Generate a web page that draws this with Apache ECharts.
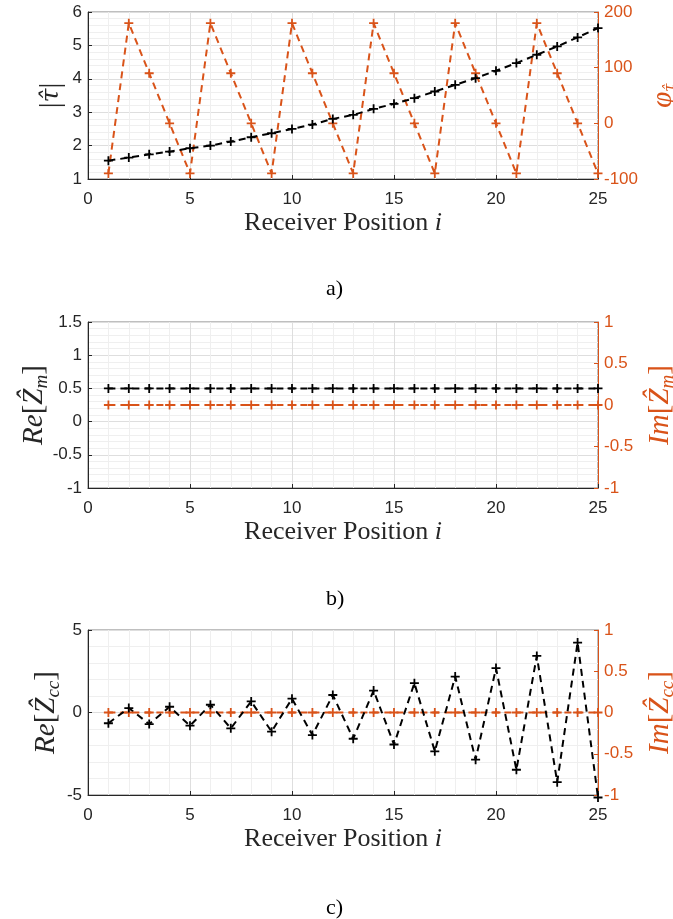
<!DOCTYPE html>
<html>
<head>
<meta charset="utf-8">
<script src="https://cdn.jsdelivr.net/npm/echarts@6/dist/echarts.min.js"></script>
<style>
  html, body { margin: 0; padding: 0; background: #fff; }
  #chart { width: 673px; height: 919px; }
</style>
</head>
<body>
<div id="chart"></div>
<script>
// receiver positions
var positions = [1,2,3,4,5,6,7,8,9,10,11,12,13,14,15,16,17,18,19,20,21,22,23,24,25];

// a) magnitude and phase of tau
var tauMag = [1.55,1.64,1.74,1.82,1.92,2.00,2.12,2.25,2.37,2.50,2.63,2.80,2.92,3.10,3.25,3.42,3.62,3.82,4.02,4.24,4.47,4.72,4.97,5.24,5.52];
var tauPhase = [-90,180,90,0,-90,180,90,0,-90,180,90,0,-90,180,90,0,-90,180,90,0,-90,180,90,0,-90];

// b) Z_m
var zmRe = [0.5,0.5,0.5,0.5,0.5,0.5,0.5,0.5,0.5,0.5,0.5,0.5,0.5,0.5,0.5,0.5,0.5,0.5,0.5,0.5,0.5,0.5,0.5,0.5,0.5];
var zmIm = [0,0,0,0,0,0,0,0,0,0,0,0,0,0,0,0,0,0,0,0,0,0,0,0,0];

// c) Z_cc
var zccRe = [-0.65,0.27,-0.70,0.35,-0.80,0.47,-0.96,0.67,-1.16,0.84,-1.37,1.06,-1.59,1.33,-1.94,1.78,-2.35,2.18,-2.86,2.69,-3.47,3.43,-4.22,4.24,-5.15];
var zccIm = [0,0,0,0,0,0,0,0,0,0,0,0,0,0,0,0,0,0,0,0,0,0,0,0,0];

var BLACK = '#000000';
var ORANGE = '#D95319';
var AXIS = '#262626';
var PLUS = 'path://M4,0H6V4H10V6H6V10H4V6H0V4H4Z';
var SERIF = 'Liberation Serif';
var MATH = 'DejaVu Serif';

var grids = [
  { left: 88, right: 75, top: 12, height: 167 },
  { left: 88, right: 75, top: 322, height: 166 },
  { left: 88, right: 75, top: 630, height: 165 }
];

function pairs(ys) {
  return positions.map(function (x, k) { return [x, ys[k]]; });
}

var nameRich = {
  it: { fontFamily: SERIF, fontStyle: 'italic', fontSize: 29 },
  hat: { fontFamily: MATH, fontStyle: 'italic', fontSize: 25 },
  sub: { fontFamily: SERIF, fontStyle: 'italic', fontSize: 19, verticalAlign: 'bottom', padding: [14, 0, 0, 0] },
  subhat: { fontFamily: MATH, fontStyle: 'italic', fontSize: 15, verticalAlign: 'bottom', padding: [14, 0, 0, 0] },
  n: { fontFamily: SERIF, fontSize: 29 }
};

function xAxisFor(g) {
  return {
    type: 'value', gridIndex: g, min: 0, max: 25, interval: 5,
    axisLine: { onZero: false, lineStyle: { color: AXIS, width: 1 } },
    axisTick: { inside: true, length: 4, lineStyle: { color: AXIS } },
    axisLabel: { color: AXIS, fontSize: 17, fontFamily: 'Liberation Sans', margin: 12 },
    splitLine: { show: true, lineStyle: { color: '#dedede' } },
    minorTick: { show: false, splitNumber: 5 },
    minorSplitLine: { show: true, lineStyle: { color: '#efefef' } },
    name: 'Receiver Position {it|i}',
    nameLocation: 'middle', nameGap: 31,
    nameTextStyle: {
      fontFamily: SERIF, fontSize: 26, color: AXIS,
      rich: { it: { fontFamily: SERIF, fontStyle: 'italic', fontSize: 26, color: AXIS } }
    }
  };
}

function leftAxis(g, min, max, interval, name, gap) {
  return {
    type: 'value', gridIndex: g, position: 'left', min: min, max: max, interval: interval,
    axisLine: { show: true, onZero: false, lineStyle: { color: AXIS } },
    axisTick: { show: true, inside: true, length: 4, lineStyle: { color: AXIS } },
    axisLabel: { color: AXIS, fontSize: 17, fontFamily: 'Liberation Sans', margin: 6 },
    splitLine: { show: true, lineStyle: { color: '#dedede' } },
    minorTick: { show: false, splitNumber: 5 },
    minorSplitLine: { show: true, lineStyle: { color: '#efefef' } },
    name: name, nameLocation: 'middle', nameRotate: 90, nameGap: gap, nameMoveOverlap: false,
    nameTextStyle: { color: AXIS, rich: nameRich }
  };
}

function rightAxis(g, min, max, interval, name, gap) {
  return {
    type: 'value', gridIndex: g, position: 'right', min: min, max: max, interval: interval,
    axisLine: { show: true, onZero: false, lineStyle: { color: ORANGE } },
    axisTick: { show: true, inside: true, length: 4, lineStyle: { color: ORANGE } },
    axisLabel: { color: ORANGE, fontSize: 17, fontFamily: 'Liberation Sans', margin: 6 },
    splitLine: { show: false },
    name: name, nameLocation: 'middle', nameRotate: 90, nameGap: gap,
    nameTextStyle: { color: ORANGE, rich: nameRich }
  };
}

function lineSeries(xi, yi, data, color) {
  return {
    type: 'line', xAxisIndex: xi, yAxisIndex: yi, data: pairs(data),
    symbol: PLUS, symbolSize: 9, showSymbol: true, clip: false,
    lineStyle: { color: color, width: 2, type: [7, 5] },
    itemStyle: { color: color },
    animation: false
  };
}

var chart = echarts.init(document.getElementById('chart'));
chart.setOption({
  backgroundColor: '#fff',
  animation: false,
  grid: grids.map(function (g) {
    return Object.assign({ show: true, borderColor: '#7f7f7f', borderWidth: 1, outerBoundsMode: 'none' }, g);
  }),
  xAxis: [xAxisFor(0), xAxisFor(1), xAxisFor(2)],
  yAxis: [
    leftAxis(0, 1, 6, 1, '{n||}{hat|\u03C4\u0302}{n||}', 22),
    rightAxis(0, -100, 200, 100, '{it|\u03C6}{subhat|\u03C4\u0302}', 50),
    leftAxis(1, -1, 1.5, 0.5, '{it|Re}{n|[}{it|\u1E90}{sub|m}{n|]}', 37),
    rightAxis(1, -1, 1, 0.5, '{it|Im}{n|[}{it|\u1E90}{sub|m}{n|]}', 46),
    leftAxis(2, -5, 5, 5, '{it|Re}{n|[}{it|\u1E90}{sub|cc}{n|]}', 25),
    rightAxis(2, -1, 1, 0.5, '{it|Im}{n|[}{it|\u1E90}{sub|cc}{n|]}', 46)
  ],
  series: [
    lineSeries(0, 1, tauPhase, ORANGE),
    lineSeries(0, 0, tauMag, BLACK),
    lineSeries(1, 3, zmIm, ORANGE),
    lineSeries(1, 2, zmRe, BLACK),
    lineSeries(2, 5, zccIm, ORANGE),
    lineSeries(2, 4, zccRe, BLACK)
  ],
  graphic: [
    { type: 'text', left: 326, top: 278, style: { text: 'a)', font: '22px "Liberation Serif"', fill: '#000' } },
    { type: 'text', left: 326, top: 588, style: { text: 'b)', font: '22px "Liberation Serif"', fill: '#000' } },
    { type: 'text', left: 326, top: 897, style: { text: 'c)', font: '22px "Liberation Serif"', fill: '#000' } }
  ]
});
</script>
</body>
</html>
